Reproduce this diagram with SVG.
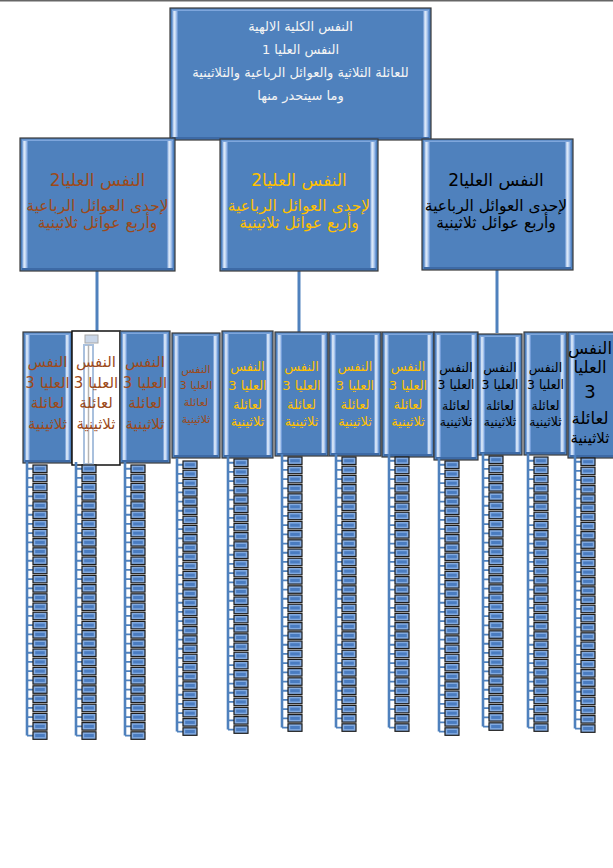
<svg xmlns="http://www.w3.org/2000/svg" xmlns:xlink="http://www.w3.org/1999/xlink" width="613" height="868" viewBox="0 0 613 868">
<style>
.bx{fill:#4F81BD;stroke:#3a3a3a;stroke-width:1.2}
.st{fill:url(#strip)}
.tp{fill:#7ea6dc}
.bt{fill:#3d6aa6}
.cn{stroke:#4F81BD;stroke-width:3;fill:none}
.vl{stroke:#4F81BD;stroke-width:2.6;fill:none}
.tk{stroke:#4F81BD;stroke-width:1.8;fill:none}
text{font-family:"DejaVu Sans","Noto Sans",sans-serif;text-anchor:middle;direction:rtl}
.wt{fill:#f4f4f4;font-size:13px}
.br{fill:#9C4A1A}
.gd{fill:#FFC000}
.bk{fill:#000}
</style>
<defs>
<linearGradient id="strip" x1="0" y1="0" x2="1" y2="0">
<stop offset="0" stop-color="#5b8bcc"/>
<stop offset="0.35" stop-color="#e4eefb"/>
<stop offset="0.65" stop-color="#b6cff0"/>
<stop offset="1" stop-color="#5a8ad0"/>
</linearGradient>
<g id="sb"><rect x="6" y="0" width="14" height="7.5" fill="#82aae0" stroke="#1c1c1c" stroke-width="1.2"/><rect x="8.2" y="2.2" width="9.6" height="3.1" fill="#4a7cc0"/></g>
<g id="stk">
<path class="vl" d="M0,-3V270.55"/>
<path class="tk" d="M0,3.75h6m-6,9.2h6m-6,9.2h6m-6,9.2h6m-6,9.2h6m-6,9.2h6m-6,9.2h6m-6,9.2h6m-6,9.2h6m-6,9.2h6m-6,9.2h6m-6,9.2h6m-6,9.2h6m-6,9.2h6m-6,9.2h6m-6,9.2h6m-6,9.2h6m-6,9.2h6m-6,9.2h6m-6,9.2h6m-6,9.2h6m-6,9.2h6m-6,9.2h6m-6,9.2h6m-6,9.2h6m-6,9.2h6m-6,9.2h6m-6,9.2h6m-6,9.2h6m-6,9.2h6"/>
<use xlink:href="#sb" y="0"/><use xlink:href="#sb" y="9.2"/><use xlink:href="#sb" y="18.4"/><use xlink:href="#sb" y="27.6"/><use xlink:href="#sb" y="36.8"/><use xlink:href="#sb" y="46"/><use xlink:href="#sb" y="55.2"/><use xlink:href="#sb" y="64.4"/><use xlink:href="#sb" y="73.6"/><use xlink:href="#sb" y="82.8"/><use xlink:href="#sb" y="92"/><use xlink:href="#sb" y="101.2"/><use xlink:href="#sb" y="110.4"/><use xlink:href="#sb" y="119.6"/><use xlink:href="#sb" y="128.8"/><use xlink:href="#sb" y="138"/><use xlink:href="#sb" y="147.2"/><use xlink:href="#sb" y="156.4"/><use xlink:href="#sb" y="165.6"/><use xlink:href="#sb" y="174.8"/><use xlink:href="#sb" y="184"/><use xlink:href="#sb" y="193.2"/><use xlink:href="#sb" y="202.4"/><use xlink:href="#sb" y="211.6"/><use xlink:href="#sb" y="220.8"/><use xlink:href="#sb" y="230"/><use xlink:href="#sb" y="239.2"/><use xlink:href="#sb" y="248.4"/><use xlink:href="#sb" y="257.6"/><use xlink:href="#sb" y="266.8"/>
</g>
</defs>
<rect x="0" y="0" width="613" height="868" fill="#fff"/>
<rect x="0" y="0" width="613" height="1.5" fill="#666"/>

<g id="connectors">
<line class="cn" x1="97" y1="271" x2="97" y2="332"/>
<line class="cn" x1="299" y1="271" x2="299" y2="332"/>
<line class="cn" x1="497" y1="270" x2="497" y2="333"/>
</g>

<g id="node-top">
<rect class="bx" x="170" y="8" width="261" height="132"/>
<rect class="st" x="172" y="11" width="6" height="126"/>
<rect class="st" x="423" y="11" width="6" height="126"/>
<rect class="tp" x="172" y="9.5" width="257" height="1.5"/>
<rect class="bt" x="172" y="137" width="257" height="2"/>
<text class="wt" x="300.5" y="31">النفس الكلية الالهية</text>
<text class="wt" x="300.5" y="54">النفس العليا 1</text>
<text class="wt" x="300.5" y="77">للعائلة الثلاثية والعوائل الرباعية والثلاثينية</text>
<text class="wt" x="300.5" y="100">وما سيتحدر منها</text>
</g>

<g id="node-2a">
<rect class="bx" x="20" y="138" width="155" height="133"/>
<rect class="st" x="22" y="141" width="6" height="127"/>
<rect class="st" x="167" y="141" width="6" height="127"/>
<rect class="tp" x="22" y="139.5" width="151" height="1.5"/>
<rect class="bt" x="22" y="268" width="151" height="2"/>
<text class="br" x="97.5" y="186" font-size="17">النفس العليا2</text>
<text class="br" x="97.5" y="211" font-size="15.5">لإحدى العوائل  الرباعية</text>
<text class="br" x="97.5" y="228" font-size="15.5">وأربع عوائل ثلاثينية</text>
</g>

<g id="node-2b">
<rect class="bx" x="220" y="139" width="158" height="132"/>
<rect class="st" x="222" y="142" width="6" height="126"/>
<rect class="st" x="370" y="142" width="6" height="126"/>
<rect class="tp" x="222" y="140.5" width="154" height="1.5"/>
<rect class="bt" x="222" y="268" width="154" height="2"/>
<text class="gd" x="299" y="186" font-size="17">النفس العليا2</text>
<text class="gd" x="299" y="211" font-size="15.5">لإحدى العوائل  الرباعية</text>
<text class="gd" x="299" y="228" font-size="15.5">وأربع عوائل ثلاثينية</text>
</g>

<g id="node-2c">
<rect class="bx" x="422" y="139" width="151" height="131"/>
<rect class="st" x="424" y="142" width="6" height="125"/>
<rect class="st" x="565" y="142" width="6" height="125"/>
<rect class="tp" x="424" y="140.5" width="147" height="1.5"/>
<rect class="bt" x="424" y="267" width="147" height="2"/>
<text class="bk" x="496" y="186" font-size="17">النفس العليا2</text>
<text class="bk" x="496" y="211" font-size="15.5">لإحدى العوائل  الرباعية</text>
<text class="bk" x="496" y="228" font-size="15.5">وأربع عوائل ثلاثينية</text>
</g>

<g id="node-3-1">
<rect class="bx" x="23" y="332" width="49" height="131"/>
<rect class="st" x="25" y="335" width="5" height="125"/>
<rect class="st" x="65" y="335" width="5" height="125"/>
<rect class="tp" x="25" y="333.5" width="45" height="1.5"/>
<rect class="bt" x="25" y="460" width="45" height="2"/>
<text class="br" font-size="15" x="47.5" y="367">النفس</text>
<text class="br" font-size="15" x="47.5" y="388">العليا 3</text>
<text class="br" font-size="15" x="47.5" y="408">لعائلة</text>
<text class="br" font-size="15" x="47.5" y="429">ثلاثينية</text>
</g>

<g id="node-3-2">
<rect x="72" y="331" width="48" height="134" fill="#fff" stroke="#111" stroke-width="1.5"/>
<rect x="84" y="345" width="9" height="119" fill="none" stroke="#a9c0dd" stroke-width="2"/>
<line x1="88.5" y1="345" x2="88.5" y2="464" stroke="#b4b4b4" stroke-width="1.5"/>
<rect x="85" y="335" width="13" height="8" fill="#c9d6e8" stroke="#a8a8a8" stroke-width="1"/>
<text class="br" font-size="15" x="96" y="367">النفس</text>
<text class="br" font-size="15" x="96" y="388">العليا 3</text>
<text class="br" font-size="15" x="96" y="408">لعائلة</text>
<text class="br" font-size="15" x="96" y="429">ثلاثينية</text>
</g>

<g id="node-3-3">
<rect class="bx" x="120" y="331" width="50" height="132"/>
<rect class="st" x="122" y="334" width="5" height="126"/>
<rect class="st" x="163" y="334" width="5" height="126"/>
<rect class="tp" x="122" y="332.5" width="46" height="1.5"/>
<rect class="bt" x="122" y="460" width="46" height="2"/>
<text class="br" font-size="15" x="145" y="367">النفس</text>
<text class="br" font-size="15" x="145" y="388">العليا 3</text>
<text class="br" font-size="15" x="145" y="408">لعائلة</text>
<text class="br" font-size="15" x="145" y="429">ثلاثينية</text>
</g>

<g id="node-3-4">
<rect class="bx" x="172" y="333" width="48" height="125"/>
<rect class="st" x="174" y="336" width="5" height="119"/>
<rect class="st" x="213" y="336" width="5" height="119"/>
<rect class="tp" x="174" y="334.5" width="44" height="1.5"/>
<rect class="bt" x="174" y="455" width="44" height="2"/>
<text class="br" font-size="11" x="196" y="373">النفس</text>
<text class="br" font-size="11" x="196" y="389">العليا 3</text>
<text class="br" font-size="11" x="196" y="406">لعائلة</text>
<text class="br" font-size="11" x="196" y="423">ثلاثينية</text>
</g>

<g id="node-3-5">
<rect class="bx" x="222" y="331" width="51" height="127"/>
<rect class="st" x="224" y="334" width="5" height="121"/>
<rect class="st" x="266" y="334" width="5" height="121"/>
<rect class="tp" x="224" y="332.5" width="47" height="1.5"/>
<rect class="bt" x="224" y="455" width="47" height="2"/>
<text class="gd" font-size="13" x="247.5" y="371">النفس</text>
<text class="gd" font-size="13" x="247.5" y="390">العليا 3</text>
<text class="gd" font-size="13" x="247.5" y="409">لعائلة</text>
<text class="gd" font-size="13" x="247.5" y="426">ثلاثينية</text>
</g>

<g id="node-3-6">
<rect class="bx" x="275" y="332" width="53" height="124"/>
<rect class="st" x="277" y="335" width="5" height="118"/>
<rect class="st" x="321" y="335" width="5" height="118"/>
<rect class="tp" x="277" y="333.5" width="49" height="1.5"/>
<rect class="bt" x="277" y="453" width="49" height="2"/>
<text class="gd" font-size="13" x="301.5" y="371">النفس</text>
<text class="gd" font-size="13" x="301.5" y="390">العليا 3</text>
<text class="gd" font-size="13" x="301.5" y="409">لعائلة</text>
<text class="gd" font-size="13" x="301.5" y="426">ثلاثينية</text>
</g>

<g id="node-3-7">
<rect class="bx" x="329" y="332" width="52" height="124"/>
<rect class="st" x="331" y="335" width="5" height="118"/>
<rect class="st" x="374" y="335" width="5" height="118"/>
<rect class="tp" x="331" y="333.5" width="48" height="1.5"/>
<rect class="bt" x="331" y="453" width="48" height="2"/>
<text class="gd" font-size="13" x="355" y="371">النفس</text>
<text class="gd" font-size="13" x="355" y="390">العليا 3</text>
<text class="gd" font-size="13" x="355" y="409">لعائلة</text>
<text class="gd" font-size="13" x="355" y="426">ثلاثينية</text>
</g>

<g id="node-3-8">
<rect class="bx" x="382" y="332" width="52" height="125"/>
<rect class="st" x="384" y="335" width="5" height="119"/>
<rect class="st" x="427" y="335" width="5" height="119"/>
<rect class="tp" x="384" y="333.5" width="48" height="1.5"/>
<rect class="bt" x="384" y="454" width="48" height="2"/>
<text class="gd" font-size="13" x="408" y="371">النفس</text>
<text class="gd" font-size="13" x="408" y="390">العليا 3</text>
<text class="gd" font-size="13" x="408" y="409">لعائلة</text>
<text class="gd" font-size="13" x="408" y="426">ثلاثينية</text>
</g>

<g id="node-3-9">
<rect class="bx" x="434" y="332" width="44" height="128"/>
<rect class="st" x="436" y="335" width="5" height="122"/>
<rect class="st" x="471" y="335" width="5" height="122"/>
<rect class="tp" x="436" y="333.5" width="40" height="1.5"/>
<rect class="bt" x="436" y="457" width="40" height="2"/>
<text class="bk" font-size="12.5" x="456" y="372">النفس</text>
<text class="bk" font-size="12.5" x="456" y="389">العليا 3</text>
<text class="bk" font-size="12.5" x="456" y="410">لعائلة</text>
<text class="bk" font-size="12.5" x="456" y="426">ثلاثينية</text>
</g>

<g id="node-3-10">
<rect class="bx" x="478" y="334" width="44" height="121"/>
<rect class="st" x="480" y="337" width="5" height="115"/>
<rect class="st" x="515" y="337" width="5" height="115"/>
<rect class="tp" x="480" y="335.5" width="40" height="1.5"/>
<rect class="bt" x="480" y="452" width="40" height="2"/>
<text class="bk" font-size="12.5" x="500" y="372">النفس</text>
<text class="bk" font-size="12.5" x="500" y="389">العليا 3</text>
<text class="bk" font-size="12.5" x="500" y="410">لعائلة</text>
<text class="bk" font-size="12.5" x="500" y="426">ثلاثينية</text>
</g>

<g id="node-3-11">
<rect class="bx" x="524" y="332" width="43" height="123"/>
<rect class="st" x="526" y="335" width="5" height="117"/>
<rect class="st" x="560" y="335" width="5" height="117"/>
<rect class="tp" x="526" y="333.5" width="39" height="1.5"/>
<rect class="bt" x="526" y="452" width="39" height="2"/>
<text class="bk" font-size="12.5" x="545.5" y="372">النفس</text>
<text class="bk" font-size="12.5" x="545.5" y="389">العليا 3</text>
<text class="bk" font-size="12.5" x="545.5" y="410">لعائلة</text>
<text class="bk" font-size="12.5" x="545.5" y="426">ثلاثينية</text>
</g>

<g id="node-3-12">
<rect class="bx" x="568" y="332" width="48" height="126"/>
<rect class="st" x="570" y="335" width="5" height="120"/>
<rect class="tp" x="570" y="333.5" width="44" height="1.5"/>
<rect class="bt" x="570" y="455" width="44" height="2"/>
<text class="bk" font-size="16.5" x="590" y="354">النفس</text>
<text class="bk" font-size="16.5" x="590" y="373">العليا</text>
<text class="bk" font-size="18" x="590" y="398">3</text>
<text class="bk" font-size="16.5" x="590" y="424">لعائلة</text>
<text class="bk" font-size="15" x="590" y="443">ثلاثينية</text>
</g>

<g id="stacks">
<use id="stack-1" xlink:href="#stk" transform="translate(27,465)"/>
<use id="stack-2" xlink:href="#stk" transform="translate(76,465)"/>
<use id="stack-3" xlink:href="#stk" transform="translate(125,465)"/>
<use id="stack-4" xlink:href="#stk" transform="translate(177,461)"/>
<use id="stack-5" xlink:href="#stk" transform="translate(228,459)"/>
<use id="stack-6" xlink:href="#stk" transform="translate(282,457)"/>
<use id="stack-7" xlink:href="#stk" transform="translate(336,457)"/>
<use id="stack-8" xlink:href="#stk" transform="translate(389,457)"/>
<use id="stack-9" xlink:href="#stk" transform="translate(439,461)"/>
<use id="stack-10" xlink:href="#stk" transform="translate(483,456)"/>
<use id="stack-11" xlink:href="#stk" transform="translate(528,457)"/>
<use id="stack-12" xlink:href="#stk" transform="translate(575,458)"/>
</g>
</svg>
